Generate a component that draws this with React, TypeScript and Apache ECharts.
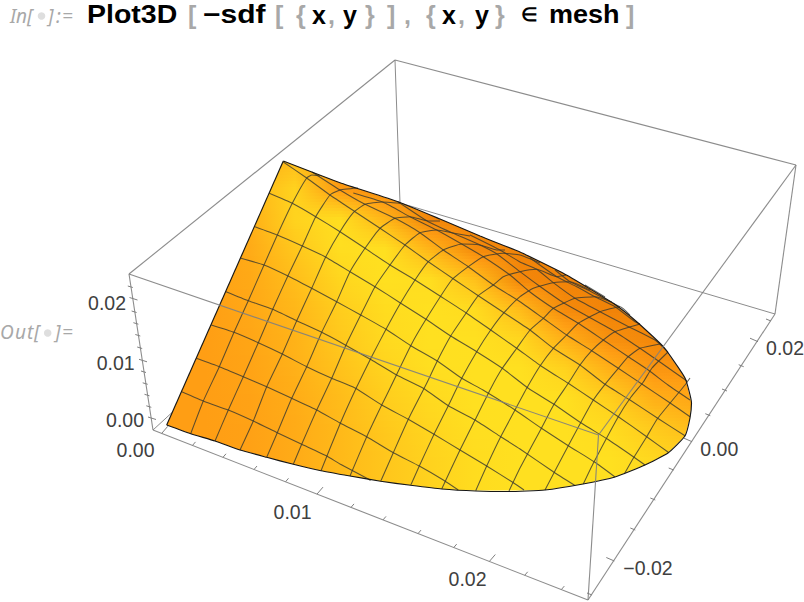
import React, { useEffect, useRef } from "react";
import * as echarts from "echarts";

type P = [number, number];

// Surface outline
const leftEdge: P[] = [[166.7,425],[283.3,161]];
const outlineCurve: P[] = [[283.3,161],[340,182.7],[398,201.7],[440,219],[480,236],[520,252],[536.7,260],[563.3,273.3],[586.7,287],[613.3,303.3],[636.7,321.7],[663.3,346.7],[685,378],[691.5,403],[690,418],[685,436],[668,453],[645,465],[615,477],[583,484],[545,490],[509,491.5],[475.7,491],[441.7,489],[410.7,485.3],[380.7,481.3],[350,476],[321,470.7],[293.3,464.3],[266.7,457.3],[240,450],[215,441],[190.7,433.7],[166.7,425]];

// Mesh lines rising from the front edge
const risingLines: P[][] = [
  [[190.7,433.7],[203.3,401],[219.3,366.7],[234,332.3],[248.3,300.7],[264,265],[277.3,235],[292.3,203.3],[306.7,178],[312,175],[320,176]],
  [[215,441],[228.3,410],[243.3,376.7],[258.3,342.7],[272.7,309.3],[288.3,275],[302.3,246],[315.7,216.7],[330,195],[340,190],[346.7,189],[358,188]],
  [[240,450],[253.3,421],[266.7,386.7],[282.3,354],[296.7,320.7],[311.7,288.3],[325.7,257],[340,231.7],[353.3,212.7],[365,204.3],[381.7,202],[400,203.3]],
  [[266.7,457.3],[277.3,432.7],[291.7,398.3],[306.7,366.7],[321.7,332.3],[336.7,301.7],[350,271.7],[365,248.3],[380,228.3],[395,218.3],[410,216.7],[428,221],[440,221]],
  [[293.3,464.3],[301.7,444.3],[316.7,410],[331.7,378.3],[346,345],[360.7,315],[375,286.7],[390,265],[405,245],[420,232.7],[436.7,230],[453,233],[470,236]],
  [[321,470.7],[340,424],[356.7,387],[372,356],[386,329.3],[400,304],[415,280],[428.3,261.7],[443.3,250],[461.7,244],[480,245],[497,250],[505,250]],
  [[350,476],[366.7,436.7],[381.7,405],[390,388.3],[410.7,345.7],[426,319.3],[451.7,280],[468.3,266.7],[483.3,256.7],[503.3,253.3],[520,255],[540,263]],
  [[380.7,481.3],[393.3,452.7],[408.3,419.3],[426.7,383.3],[437.3,361],[450.7,336],[466,313.3],[478.3,295.7],[493.3,285],[503.3,276.7],[520,271.7],[536.7,269.3],[556.7,276.7],[566,275]],
  [[410.7,485.3],[419.3,466],[434,434.3],[448.3,405.7],[461.7,378.3],[476.7,351.7],[490.7,330],[504,312.7],[520,296.7],[533.3,288.3],[553.3,282.7],[570,281.7],[590,290]],
  [[441.7,489],[460,450],[475,420],[491.7,386.7],[502.3,368.3],[516.7,348.3],[530,330],[543.3,318.3],[553.3,308.3],[575,298.3],[595,296.7],[612,302]],
  [[475.7,490.7],[486.7,466],[500.7,436.7],[515,410],[526.7,388.3],[540,366],[553.3,348.3],[566.7,335],[578.3,323.3],[600,311.7],[620,306.7],[630,315]],
  [[509,491],[520,468],[541.7,427.7],[554,404.3],[568.3,383.3],[580,365],[591.7,350.7],[603.3,340],[615,331.7],[640,324]],
  [[545,490],[568.3,445.7],[593.3,400],[605,384.3],[618.3,368.3],[628.3,356.7],[640,348.3],[660,344]],
  [[583.3,484],[593.3,463.3],[618.3,416.7],[631,397],[643.3,382],[652,368],[668,352]],
  [[624.3,474],[633.3,458.3],[646.7,436.7],[657.7,418.3],[685,385],[690,378]],
];

// Mesh lines falling from the left edge and the crest
const fallingLines: P[][] = [
  [[181.7,391.7],[205,401.7],[228.3,410],[253.3,421],[277.3,432.7],[301.7,444.3],[326.7,456],[340,464],[368.3,479],[370.5,480.5]],
  [[196.5,358.3],[219.3,366.7],[243.3,376.7],[266.7,386.7],[291.7,398.3],[316.7,410],[340,423],[366.7,436.7],[393.3,452.7],[419.3,466],[443.3,480],[458.3,490]],
  [[211.3,325],[234,332.3],[258.3,342.7],[282.3,354],[306.7,366.7],[331.7,378.3],[355,388],[381.7,405],[408.3,419.3],[434,434.3],[460,450],[486.7,466],[512.7,482.3],[524,490]],
  [[226,291.7],[248.3,300.7],[272.7,309.3],[296.7,320.7],[321.7,332.3],[340,342],[371.7,360],[396.7,375],[423.3,388.3],[448.3,405.7],[475,420],[500.7,436.7],[520,449],[553.3,471.7],[575,485.5]],
  [[241,258.3],[264,265],[288,276],[311.7,288.3],[336.7,301.7],[360.7,315],[386,329.3],[410.7,345.7],[437.3,361],[461.7,378.3],[483,390],[515,410],[540.7,427.7],[568.3,445.7],[595,462.3],[615,477]],
  [[255,226.7],[277.3,235],[302.3,246],[325,256.7],[350,271.7],[375,286.7],[400,302.7],[426,319.3],[450.7,336],[476.7,351.7],[502.3,368.3],[528.3,388.3],[554,404.3],[581.7,423.3],[607.3,439],[633.3,456.7],[645,465]],
  [[269.3,193.3],[292.3,203.3],[315.7,216.7],[340,231.7],[365,248.3],[390,265],[415,280],[440,296],[466,312.7],[490.7,330],[516.7,348.3],[541,366],[568.3,383.3],[593.3,400],[618.3,416.7],[646.7,436.7],[668.3,452.3]],
  [[283.3,162],[306.7,178],[330,195],[355,211.7],[380,228.3],[405,245],[428.3,261.7],[455,280],[478.3,295.7],[504,312.7],[530,330],[553.3,348.3],[580,365],[605,384.3],[630,400],[657.7,418.3],[685,435.7]],
  [[312,172],[340,190],[365,204.3],[395,218.3],[420,232.7],[443.3,250],[468.3,266.7],[493.3,285],[520,301.7],[543.3,318.3],[566.7,335],[591.7,350.7],[618.3,368.3],[643.3,385],[668.3,401.7],[690,416.7]],
  [[353.3,193],[383.3,202.3],[410,216.7],[436.7,230],[461.7,244],[483.3,256.7],[510,275],[530,292],[553.3,308.3],[578.3,323.3],[603.3,340],[628.3,356.7],[648.3,370],[668,385],[690,400]],
  [[398,201.7],[428.3,221.7],[453.3,233.3],[480,245],[497,254],[520,271.7],[538.3,285.3],[563.3,302.7],[588.3,316.7],[615,331.7],[640,348.3],[661.7,363.3],[687,381]],
  [[470,235],[500,250],[520,262],[536.7,269.3],[553.3,282.7],[575,298.3],[600,311.7],[626.7,325.7],[655,340],[668,352]],
  [[530,258],[556.7,276.7],[576.7,286.7],[595,296.7],[615,306.7],[635,321.7],[640,324]],
  [[555,270],[570,281.7],[588,290],[610,301.7],[620,306.7]],
  [[585,285],[605,297]],
];

// Shading, read by eye: 0 deep orange, 1 bright yellow
const shadeXs = [160,205,250,295,340,385,430,475,520,565,610,655,700];
const shadeYs = [160,190,220,250,280,310,340,370,400,430,460,490];
const shadeRows: number[][] = [
  [.4,.4,.5,.6,.2,.12,.1,.08,.08,.08,.08,.08,.08],
  [.4,.4,.55,.85,.3,.15,.08,.08,.08,.08,.08,.08,.08],
  [.35,.4,.48,.85,.98,.55,.1,.08,.08,.08,.08,.08,.08],
  [.33,.35,.45,.7,.97,1,.55,.15,.08,.08,.08,.08,.08],
  [.33,.35,.43,.62,.88,1,.97,.65,.12,.08,.08,.08,.08],
  [.33,.33,.42,.56,.78,.95,1,.95,.6,.15,.08,.08,.08],
  [.33,.33,.4,.52,.72,.92,1,1,.9,.5,.2,.12,.12],
  [.33,.33,.38,.5,.66,.85,.98,1,1,.85,.5,.25,.25],
  [.33,.33,.37,.46,.6,.78,.92,1,1,1,.8,.5,.4],
  [.33,.33,.36,.45,.58,.72,.87,.98,1,1,.95,.75,.6],
  [.33,.33,.36,.45,.58,.7,.84,.95,1,1,1,.9,.8],
  [.33,.33,.36,.45,.58,.7,.84,.95,1,1,1,.9,.8],
];
const shadeRamp: [number, number[]][] = [[0,[236,122,4]],[0.33,[255,158,20]],[0.7,[255,198,28]],[1,[255,224,32]]];

// Bounding box edges: x1, y1, x2, y2
const boxBack = [[395,60,400,203],[153,430,400,203],[775,314,400,203]];
const boxFront = [[395,60,796,165],[395,60,129,274],[129,274,153,430],[796,165,775,314],[153,430,588,600],[588,600,775,314],[129,274,598.5,435],[598.5,435,796,165],[598.5,435,588,600]];

// Axis ticks: base x, base y, major flag
const xTicks: number[][] = [[161.7,433.4,1],[192.5,445.4,0],[223,457.3,0],[254,469.5,0],[285.5,481.8,0],[317,494.1,1],[351,507.4,0],[383,519.9,0],[418,533.6,0],[453.7,547.6,0],[489.3,561.5,1],[524.7,575.3,0],[561.3,589.6,0]];
const zTicks: number[][] = [[148,417,1],[146.3,405.8,0],[144.5,394.3,0],[142.7,382.8,0],[141,371,0],[139,359.3,1],[137.2,347,0],[135.3,334.5,0],[133.4,322.7,0],[131.6,311,0],[129.5,297.5,1],[127.8,286,0]];
const yTicks: number[][] = [[592,595,0],[614.3,561,1],[635.3,530,0],[655.3,500,0],[673.7,470,0],[692,441.7,1],[710.3,415.7,0],[727,391,0],[743.7,366.7,0],[758,341.7,1],[771,321,0]];

const tickLabels: [string, number, number][] = [
  ["0.00",135.5,450],["0.01",292.5,511.5],["0.02",467.5,578.5],
  ["0.00",125,420],["0.01",115.7,363],["0.02",107,303],
  ["\u22120.02",648,567.5],["0.00",719.3,448.5],["0.02",785,347.5],
];

// Input line pieces: text, left x, bold black or grey, horizontal stretch
const titleParts: [string, number, boolean, number][] = [
  ["Plot3D",87,true,1.14],["[",188,false,1],["\u2212sdf",203,true,1.2],["[",275,false,1],["{",296,false,1],["x",312,true,1],[",",328,false,1],["y",343,true,1],["}",365,false,1],["]",387,false,1],
  [",",404,false,1],["{",426,false,1],["x",442,true,1],[",",458,false,1],["y",475,true,1],["}",495,false,1],["mesh",549,true,1.08],["]",626,false,1],
];
const memberSign: [string, number] = ["\u2208", 521];
const promptParts: [string, number, number][] = [
  ["I",10,16],["n",16,16],["[",27,16],["]",48,16],[":",56,16],["=",62,16],
  ["O",0,332],["u",15,332],["t",27,332],["[",34,332],["]",55,332],["=",62,332],
];
const promptDots: P[] = [[41.5,16],[47.7,333]];

function rampColor(s: number): string {
  let i = 0;
  while (i < shadeRamp.length - 2 && s > shadeRamp[i + 1][0]) i++;
  const [a, ca] = shadeRamp[i];
  const [b, cb] = shadeRamp[i + 1];
  const t = Math.min(1, Math.max(0, (s - a) / (b - a)));
  const c = ca.map((v, k) => Math.round(v + (cb[k] - v) * t));
  return `rgb(${c[0]},${c[1]},${c[2]})`;
}

function segmentSeries(id: string, data: number[][], z: number, color: string, width: number, opacity = 1) {
  return {
    id, type: "custom", coordinateSystem: "cartesian2d", z, silent: true, clip: false,
    data,
    renderItem: (_: any, api: any) => {
      const a = api.coord([api.value(0), api.value(1)]);
      const b = api.coord([api.value(2), api.value(3)]);
      return { type: "line", shape: { x1: a[0], y1: a[1], x2: b[0], y2: b[1] }, style: { stroke: color, lineWidth: width, opacity } };
    },
  };
}

function meshSeries(line: P[], id: string) {
  return {
    id, type: "line", data: line, showSymbol: false, symbol: "none", smooth: 0.15, z: 4, silent: true, clip: false,
    lineStyle: { color: "#383830", width: 1.05, opacity: 0.8 },
  };
}

function tickSegments(ticks: number[][], major: P, minor: P): number[][] {
  return ticks.map(([x, y, m]) => {
    const d = m ? major : minor;
    return [x, y, x + d[0], y + d[1]];
  });
}

export default function App() {
  const ref = useRef<HTMLDivElement>(null);
  useEffect(() => {
    const chart = echarts.init(ref.current!, undefined, { renderer: "svg" });
    const shadeSeries = {
      id: "shade", type: "custom", coordinateSystem: "cartesian2d", z: 3, silent: true, clip: false,
      data: shadeYs.slice(0, -1).map((y, i) => [i, y]),
      renderItem: (params: any, api: any) => {
        const r = api.value(0);
        const y0 = shadeYs[r];
        const y1 = shadeYs[r + 1];
        const strips = 10;
        const children: any[] = [];
        for (let k = 0; k < strips; k++) {
          const t = (k + 0.5) / strips;
          const stops = shadeXs.map((_, j) => ({
            offset: j / (shadeXs.length - 1),
            color: rampColor(shadeRows[r][j] * (1 - t) + shadeRows[r + 1][j] * t),
          }));
          const tl = api.coord([shadeXs[0], y0 + ((y1 - y0) * k) / strips]);
          const br = api.coord([shadeXs[shadeXs.length - 1], y0 + ((y1 - y0) * (k + 1)) / strips + 0.6]);
          children.push({
            type: "rect",
            shape: { x: tl[0], y: tl[1], width: br[0] - tl[0], height: br[1] - tl[1] },
            style: { fill: new echarts.graphic.LinearGradient(0, 0, 1, 0, stops) },
          });
        }
        return {
          type: "group",
          clipPath: { type: "polygon", shape: { points: outlineCurve.map((p) => api.coord(p)) } },
          children,
        };
      },
    };
    const edgeStyle = { color: "#161616", width: 1.15 };
    const outlineSeries = {
      id: "outline", type: "line", data: outlineCurve, showSymbol: false, symbol: "none", smooth: 0.15, z: 5, silent: true, clip: false,
      lineStyle: edgeStyle,
    };
    const leftEdgeSeries = {
      id: "leftEdge", type: "line", data: leftEdge, showSymbol: false, symbol: "none", z: 5, silent: true, clip: false,
      lineStyle: edgeStyle,
    };
    const graphic: any[] = [];
    titleParts.forEach(([text, x, bold, stretch]) => {
      graphic.push({
        type: "text", x, y: 14.6, scaleX: stretch, z: 20,
        style: { text, font: '700 25px "Liberation Sans"', fill: bold ? "#000000" : "#a8a8a8", textAlign: "left", textVerticalAlign: "middle" },
      });
    });
    graphic.push({
      type: "text", x: memberSign[1], y: 14, z: 20,
      style: { text: memberSign[0], font: '700 19px "Noto Sans"', fill: "#000000", textAlign: "left", textVerticalAlign: "middle" },
    });
    promptParts.forEach(([text, x, y]) => {
      graphic.push({
        type: "text", x, y, z: 20,
        style: { text, font: 'italic 19px "Noto Sans"', fill: "#a8a8a8", textAlign: "left", textVerticalAlign: "middle" },
      });
    });
    promptDots.forEach(([cx, cy]) => {
      graphic.push({ type: "circle", z: 20, shape: { cx, cy, r: 3.8 }, style: { fill: "#dedede" } });
    });
    tickLabels.forEach(([text, x, y]) => {
      graphic.push({
        type: "text", x, y, z: 20,
        style: { text, font: '19.5px "Liberation Sans"', fill: "#404040", textAlign: "center", textVerticalAlign: "middle" },
      });
    });
    chart.setOption({
      animation: false,
      backgroundColor: "#ffffff",
      grid: { left: 0, right: 0, top: 0, bottom: 0 },
      xAxis: { type: "value", min: 0, max: 804, show: false },
      yAxis: { type: "value", min: 0, max: 602, inverse: true, show: false },
      graphic,
      series: [
        segmentSeries("boxBack", boxBack, 1, "#8c8c8c", 1),
        shadeSeries,
        ...risingLines.map((l, i) => meshSeries(l, "rising" + i)),
        ...fallingLines.map((l, i) => meshSeries(l, "falling" + i)),
        outlineSeries,
        leftEdgeSeries,
        segmentSeries("boxFront", boxFront, 6, "#808080", 1.1, 0.9),
        segmentSeries("xTicks", tickSegments(xTicks, [6, -7], [3, -3.5]), 6, "#808080", 1),
        segmentSeries("zTicks", tickSegments(zTicks, [8, 2.5], [5, 1.5]), 6, "#808080", 1),
        segmentSeries("yTicks", tickSegments(yTicks, [-8, -3.5], [-5, -2]), 6, "#808080", 1),
      ],
    });
    return () => chart.dispose();
  }, []);
  return <div ref={ref} style={{ position: "absolute", left: 0, top: 0, width: 804, height: 602 }} />;
}
